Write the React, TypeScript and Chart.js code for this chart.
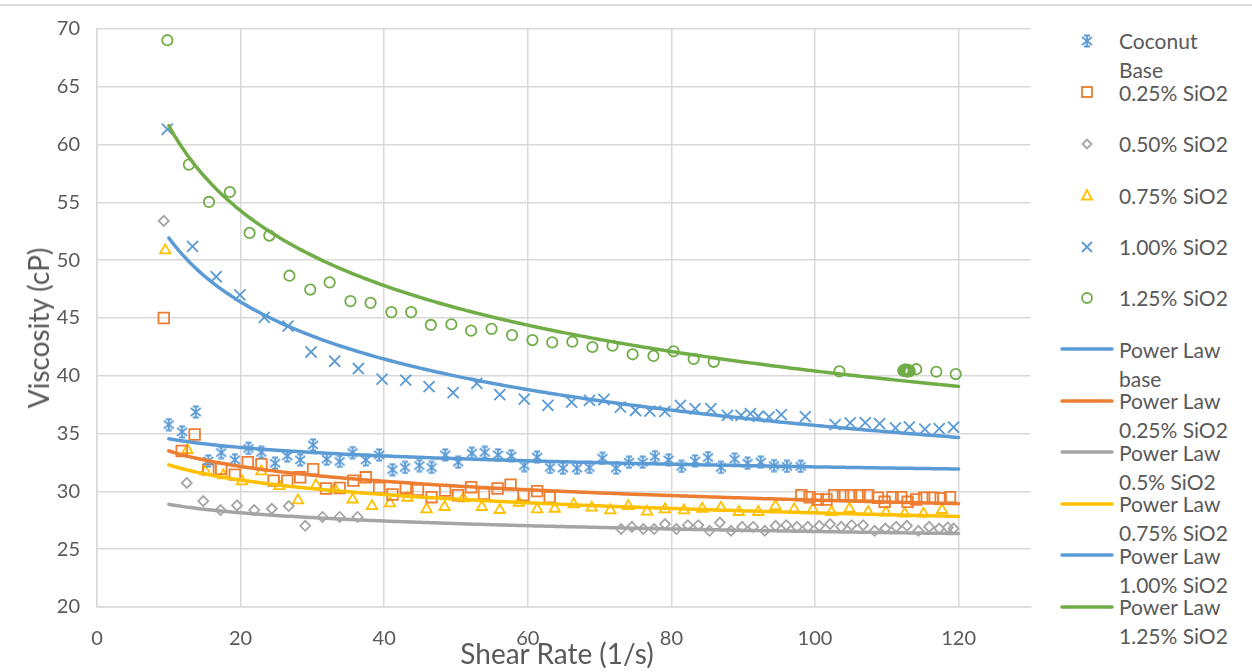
import { useEffect, useRef } from "react";
import { Chart, registerables } from "chart.js";

Chart.register(...registerables);

const FONT = "Lato, 'Liberation Sans', sans-serif";
const TEXT = "#595959";
const GRID = "#D9D9D9";

// Measured viscosity (cP) against shear rate (1/s) for each formulation
const baseX = [10.0, 11.85, 13.75, 15.5, 17.3, 19.2, 21.1, 22.9, 24.8, 26.5, 28.3, 30.1, 32.0, 33.8, 35.6, 37.45, 39.3, 41.15, 42.9, 44.9, 46.6, 48.5, 50.3, 52.2, 54.0, 55.85, 57.7, 59.5, 61.3, 63.1, 64.9, 66.85, 68.6, 70.4, 72.3, 74.1, 76.0, 77.7, 79.6, 81.4, 83.3, 85.1, 86.9, 88.8, 90.6, 92.45, 94.3, 96.1, 98.0];
const baseY = [35.78, 35.15, 36.87, 32.64, 33.36, 32.73, 33.72, 33.38, 32.44, 33.07, 32.73, 34.02, 32.79, 32.59, 33.36, 32.73, 33.16, 31.88, 32.07, 32.24, 32.07, 33.16, 32.53, 33.3, 33.38, 33.16, 33.07, 32.24, 32.96, 32.07, 32.01, 32.01, 32.07, 32.87, 32.01, 32.53, 32.53, 33.01, 32.73, 32.16, 32.64, 32.93, 32.07, 32.79, 32.44, 32.53, 32.24, 32.16, 32.16];

const si025X = [9.3, 11.8, 13.6, 15.5, 17.3, 19.2, 21.0, 22.9, 24.6, 26.5, 28.3, 30.1, 31.9, 33.8, 35.7, 37.45, 39.3, 41.15, 43.0, 44.7, 46.6, 48.5, 50.3, 52.1, 53.9, 55.8, 57.6, 59.4, 61.3, 63.05, 98.1, 99.25, 100.4, 101.6, 102.7, 103.9, 105.0, 106.2, 107.4, 108.75, 109.7, 110.8, 112.0, 112.9, 114.1, 115.2, 116.4, 117.5, 118.8];
const si025Y = [45.0, 33.5, 34.92, 31.88, 31.96, 31.45, 32.53, 32.36, 30.93, 30.93, 31.22, 31.93, 30.25, 30.3, 30.93, 31.22, 30.3, 29.73, 30.3, 30.13, 29.5, 30.08, 29.67, 30.36, 29.79, 30.25, 30.59, 29.67, 30.02, 29.5, 29.67, 29.5, 29.3, 29.3, 29.67, 29.67, 29.67, 29.67, 29.67, 29.45, 29.1, 29.5, 29.5, 29.1, 29.3, 29.45, 29.45, 29.39, 29.5];

const si050X = [9.3, 12.5, 14.8, 17.2, 19.5, 21.9, 24.35, 26.7, 29.0, 31.4, 33.8, 36.3, 73.0, 74.5, 76.1, 77.6, 79.1, 80.7, 82.3, 83.75, 85.3, 86.75, 88.3, 89.85, 91.4, 93.0, 94.5, 96.0, 97.5, 99.0, 100.6, 102.1, 103.65, 105.1, 106.7, 108.3, 109.8, 111.3, 112.8, 114.4, 115.9, 117.3, 118.5, 119.3];
const si050Y = [53.4, 30.73, 29.16, 28.39, 28.79, 28.39, 28.5, 28.73, 27.02, 27.79, 27.79, 27.79, 26.74, 26.93, 26.74, 26.74, 27.17, 26.74, 27.08, 27.08, 26.59, 27.3, 26.59, 26.93, 26.93, 26.59, 27.02, 27.08, 26.93, 26.93, 27.02, 27.17, 26.93, 27.08, 27.08, 26.59, 26.79, 26.93, 27.02, 26.59, 26.93, 26.79, 26.88, 26.79];

const si075X = [9.5, 12.6, 15.1, 17.6, 20.2, 22.9, 25.4, 28.0, 30.5, 33.1, 35.6, 38.3, 40.8, 43.25, 45.9, 48.4, 51.0, 53.6, 56.1, 58.75, 61.3, 63.75, 66.4, 68.9, 71.5, 74.0, 76.6, 79.1, 81.75, 84.3, 86.9, 89.4, 92.1, 94.5, 97.1, 99.7, 102.3, 104.8, 107.4, 109.9, 112.5, 115.1, 117.7];
const si075Y = [50.85, 33.58, 31.73, 31.39, 30.87, 31.73, 30.45, 29.22, 30.53, 30.21, 29.3, 28.73, 28.96, 29.45, 28.45, 28.65, 29.39, 28.65, 28.39, 29.02, 28.45, 28.5, 28.88, 28.59, 28.36, 28.73, 28.25, 28.45, 28.36, 28.5, 28.59, 28.22, 28.22, 28.73, 28.45, 28.45, 28.22, 28.5, 28.22, 28.17, 28.07, 28.07, 28.39];

const si100X = [9.8, 13.3, 16.6, 19.9, 23.3, 26.6, 29.8, 33.1, 36.4, 39.7, 43.0, 46.25, 49.6, 52.9, 56.1, 59.5, 62.8, 66.1, 68.6, 70.6, 72.9, 75.0, 77.0, 79.1, 81.25, 83.3, 85.5, 87.8, 89.7, 91.0, 92.1, 93.6, 95.3, 98.65, 102.8, 104.9, 107.0, 109.0, 111.2, 113.15, 115.3, 117.3, 119.3];
const si100Y = [61.33, 51.19, 48.57, 47.0, 45.06, 44.29, 42.06, 41.26, 40.63, 39.72, 39.63, 39.07, 38.55, 39.35, 38.38, 37.98, 37.44, 37.72, 37.87, 37.95, 37.29, 37.0, 36.95, 36.93, 37.44, 37.15, 37.15, 36.58, 36.58, 36.72, 36.5, 36.44, 36.64, 36.47, 35.78, 35.92, 35.95, 35.87, 35.5, 35.58, 35.38, 35.43, 35.55];

const si125X = [9.8, 12.8, 15.6, 18.5, 21.25, 24.0, 26.8, 29.7, 32.4, 35.3, 38.1, 41.0, 43.75, 46.5, 49.35, 52.1, 54.95, 57.8, 60.65, 63.4, 66.2, 69.0, 71.8, 74.6, 77.5, 80.3, 83.1, 85.9, 103.4, 112.3, 112.45, 112.6, 112.75, 112.9, 113.0, 113.1, 113.2, 112.6, 112.9, 114.1, 116.9, 119.6];
const si125Y = [69.03, 58.27, 55.04, 55.9, 52.36, 52.13, 48.66, 47.46, 48.08, 46.46, 46.31, 45.51, 45.51, 44.4, 44.46, 43.91, 44.06, 43.52, 43.09, 42.89, 42.95, 42.49, 42.6, 41.86, 41.72, 42.12, 41.46, 41.21, 40.38, 40.45, 40.5, 40.4, 40.48, 40.42, 40.5, 40.45, 40.4, 40.55, 40.35, 40.57, 40.35, 40.15];

// Power-law trendline coefficients, viscosity = a * rate^b
const fitA = [37.17, 38.38, 31.43, 37.05, 75.51, 94.0];
const fitB = [-0.0317, -0.059, -0.0368, -0.0597, -0.1626, -0.1833];
const fitFrom = 10;
const fitTo = 120;

const seriesNames = ["Coconut Base", "0.25% SiO2", "0.50% SiO2", "0.75% SiO2", "1.00% SiO2", "1.25% SiO2"];
const fitNames = ["Power Law base", "Power Law 0.25% SiO2", "Power Law 0.5% SiO2", "Power Law 0.75% SiO2", "Power Law 1.00% SiO2", "Power Law 1.25% SiO2"];
const xTicks = [0, 20, 40, 60, 80, 100, 120];

const BLUE = "#5B9BD5";
const ORANGE = "#ED7D31";
const GRAY = "#A5A5A5";
const GOLD = "#FFC000";
const GREEN = "#70AD47";
const seriesColors = [BLUE, ORANGE, GRAY, GOLD, BLUE, GREEN];
const fitColors = [BLUE, ORANGE, GRAY, GOLD, BLUE, GREEN];

const xs = [baseX, si025X, si050X, si075X, si100X, si125X];
const ys = [baseY, si025Y, si050Y, si075Y, si100Y, si125Y];

function asteriskImage(color: string) {
  const s = 14;
  const c = document.createElement("canvas");
  c.width = s;
  c.height = s;
  const g = c.getContext("2d")!;
  g.strokeStyle = color;
  g.lineWidth = 1.8;
  const m = s / 2;
  g.beginPath();
  g.moveTo(m, 1);
  g.lineTo(m, s - 1);
  g.moveTo(2, 3);
  g.lineTo(s - 2, s - 3);
  g.moveTo(2, s - 3);
  g.lineTo(s - 2, 3);
  g.moveTo(m - 3, 1.5);
  g.lineTo(m + 3, 1.5);
  g.moveTo(m - 3, s - 1.5);
  g.lineTo(m + 3, s - 1.5);
  g.stroke();
  return c;
}

function powerCurve(i: number) {
  const pts: { x: number; y: number }[] = [];
  for (let x = fitFrom; x <= fitTo + 1e-9; x += 0.5) {
    pts.push({ x, y: fitA[i] * Math.pow(x, fitB[i]) });
  }
  return pts;
}

function LegendMarker({ kind, color }: { kind: string; color: string }) {
  const sw = 1.8;
  if (kind === "line") {
    return (
      <svg width={56} height={8} style={{ display: "block" }}>
        <line x1={3} y1={4} x2={53} y2={4} stroke={color} strokeWidth={3.5} strokeLinecap="round" />
      </svg>
    );
  }
  let shape: any = null;
  if (kind === "asterisk") {
    shape = (
      <path d="M8 2 V14 M3 4 L13 12 M3 12 L13 4 M5 2.5 H11 M5 13.5 H11" stroke={color} strokeWidth={sw} fill="none" />
    );
  } else if (kind === "square") {
    shape = <rect x={3} y={3} width={10} height={10} stroke={color} strokeWidth={sw} fill="none" />;
  } else if (kind === "diamond") {
    shape = <polygon points="8,3.5 12.5,8 8,12.5 3.5,8" stroke={color} strokeWidth={sw} fill="none" />;
  } else if (kind === "triangle") {
    shape = <polygon points="8,3 13,12.5 3,12.5" stroke={color} strokeWidth={sw} fill="none" />;
  } else if (kind === "x") {
    shape = <path d="M3 3 L13 13 M3 13 L13 3" stroke={color} strokeWidth={sw} fill="none" />;
  } else {
    shape = <circle cx={8} cy={8} r={5} stroke={color} strokeWidth={sw} fill="none" />;
  }
  return (
    <svg width={16} height={16} style={{ display: "block" }}>
      {shape}
    </svg>
  );
}

const markerKinds = ["asterisk", "square", "diamond", "triangle", "x", "circle"];

export default function App() {
  const canvasRef = useRef<HTMLCanvasElement | null>(null);

  useEffect(() => {
    const canvas = canvasRef.current;
    if (!canvas) return;
    Chart.defaults.font.family = FONT;

    const pointStyles: any[] = [asteriskImage(BLUE), "rect", "rectRot", "triangle", "crossRot", "circle"];
    const radii = [7, 7.5, 5, 6, 7.8, 5.2];

    const scatterSets = seriesNames.map((name, i) => ({
      type: "scatter" as const,
      label: name,
      data: xs[i].map((x, k) => ({ x, y: ys[i][k] })),
      pointStyle: pointStyles[i],
      pointRadius: radii[i],
      pointBorderWidth: 1.8,
      borderColor: seriesColors[i],
      backgroundColor: "rgba(0,0,0,0)",
      showLine: false,
      order: 2,
    }));

    const fitSets = fitNames.map((name, i) => ({
      type: "line" as const,
      label: name,
      data: powerCurve(i),
      borderColor: fitColors[i],
      borderWidth: 3.5,
      pointRadius: 0,
      tension: 0,
      fill: false,
      borderCapStyle: "round" as const,
      order: 1,
    }));

    const chart = new Chart(canvas, {
      type: "scatter",
      data: { datasets: [...scatterSets, ...fitSets] as any },
      options: {
        animation: false,
        responsive: false,
        events: [],
        layout: { padding: { top: 23, right: 7, left: 0, bottom: 0 } },
        plugins: { legend: { display: false }, tooltip: { enabled: false } },
        scales: {
          x: {
            type: "linear",
            min: 0,
            max: 130,
            afterBuildTicks: (s: any) => {
              s.ticks = xTicks.map((v) => ({ value: v }));
            },
            afterFit: (s: any) => {
              s.height = 65;
            },
            grid: { color: GRID, lineWidth: 1.5, drawTicks: false },
            border: { color: GRID, width: 1.5 },
            ticks: { padding: 20, color: TEXT, font: { family: FONT, size: 20 } },
          },
          y: {
            type: "linear",
            min: 20,
            max: 70,
            afterFit: (s: any) => {
              s.width = 97;
            },
            grid: { color: GRID, lineWidth: 1.5, drawTicks: false },
            border: { color: GRID, width: 1.5 },
            ticks: { stepSize: 5, padding: 17, color: TEXT, font: { family: FONT, size: 20 } },
          },
        },
      },
    });
    return () => chart.destroy();
  }, []);

  const legendItems = [
    ...seriesNames.map((n, i) => ({ label: n, kind: markerKinds[i], color: seriesColors[i] })),
    ...fitNames.map((n, i) => ({ label: n, kind: "line", color: fitColors[i] })),
  ];

  return (
    <div
      style={{
        position: "fixed",
        left: 0,
        top: 0,
        width: 1252,
        height: 672,
        background: "#ffffff",
        overflow: "hidden",
        fontFamily: FONT,
        color: TEXT,
      }}
    >
      <div style={{ position: "absolute", left: 0, top: 4, width: 1252, height: 1.5, background: GRID }} />
      <canvas ref={canvasRef} width={1040} height={672} style={{ position: "absolute", left: 0, top: 0 }} />
      <div
        style={{
          position: "absolute",
          left: 38,
          top: 328,
          transform: "translate(-50%, -50%) rotate(-90deg)",
          fontSize: 28,
          whiteSpace: "nowrap",
        }}
      >
        Viscosity (cP)
      </div>
      <div
        style={{
          position: "absolute",
          left: 557,
          top: 653,
          transform: "translate(-50%, -50%)",
          fontSize: 28,
          whiteSpace: "nowrap",
        }}
      >
        Shear Rate (1/s)
      </div>
      {legendItems.map((it, i) => {
        const cy = 40.7 + 51.45 * i;
        const isLine = it.kind === "line";
        return (
          <div key={it.label}>
            <div
              style={{
                position: "absolute",
                left: isLine ? 1059 : 1079,
                top: cy - (isLine ? 4 : 8),
              }}
            >
              <LegendMarker kind={it.kind} color={it.color} />
            </div>
            <div
              style={{
                position: "absolute",
                left: 1119,
                top: cy - 14.5,
                width: 124,
                fontSize: 21,
                lineHeight: "29px",
              }}
            >
              {it.label}
            </div>
          </div>
        );
      })}
    </div>
  );
}
